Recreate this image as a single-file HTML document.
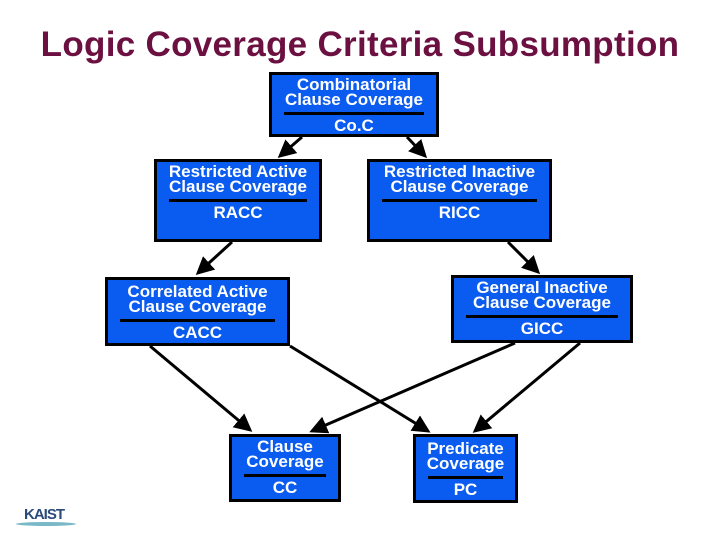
<!DOCTYPE html>
<html><head><style>
body{margin:0;width:720px;height:540px;background:#fff;position:relative;overflow:hidden;font-family:"Liberation Sans",sans-serif}
.t{position:absolute;left:0;width:720px;top:25px;text-align:center;font-size:35px;font-weight:bold;color:#6b1040;letter-spacing:0.3px}
.b{position:absolute;background:#0a5cf0;border:3px solid #000;box-sizing:border-box;color:#fff;font-weight:bold;font-size:17px;line-height:15px;text-align:center}
.b .h{padding-top:2px}
.b hr{border:0;height:3px;background:#000;margin:5px 12px 3px}
svg{position:absolute;left:0;top:0}
</style></head><body>
<div class="t">Logic Coverage Criteria Subsumption</div>
<svg width="720" height="540">
<defs><marker id="a" markerWidth="6" markerHeight="6" refX="5" refY="3" orient="auto" markerUnits="strokeWidth"><path d="M0,0L6,3L0,6z" fill="#000"/></marker></defs>
<g stroke="#000" stroke-width="3" marker-end="url(#a)">
<line x1="302" y1="137" x2="280" y2="156"/>
<line x1="407" y1="137" x2="425" y2="156"/>
<line x1="232" y1="242" x2="198" y2="273"/>
<line x1="508" y1="242" x2="538" y2="272"/>
<line x1="150" y1="346" x2="250" y2="430"/>
<line x1="290" y1="346" x2="428" y2="431"/>
<line x1="515" y1="343" x2="312" y2="431"/>
<line x1="580" y1="343" x2="475" y2="431"/>
</g></svg>
<div class="b" style="left:269px;top:72px;width:170px;height:65px"><div class="h">Combinatorial<br>Clause Coverage</div><hr>Co.C</div>
<div class="b" style="left:154px;top:159px;width:168px;height:83px"><div class="h">Restricted Active<br>Clause Coverage</div><hr>RACC</div>
<div class="b" style="left:367px;top:159px;width:185px;height:83px"><div class="h">Restricted Inactive<br>Clause Coverage</div><hr>RICC</div>
<div class="b" style="left:105px;top:277px;width:185px;height:69px"><div class="h" style="padding-top:4px">Correlated Active<br>Clause Coverage</div><hr>CACC</div>
<div class="b" style="left:451px;top:275px;width:182px;height:68px"><div class="h">General Inactive<br>Clause Coverage</div><hr>GICC</div>
<div class="b" style="left:229px;top:434px;width:112px;height:68px"><div class="h">Clause<br>Coverage</div><hr>CC</div>
<div class="b" style="left:413px;top:434px;width:105px;height:69px"><div class="h" style="padding-top:4px">Predicate<br>Coverage</div><hr>PC</div>
<div style="position:absolute;left:24px;top:506px;font:bold 15px 'Liberation Sans',sans-serif;color:#2a4a7a;letter-spacing:-1px">KAIST</div>
<div style="position:absolute;left:16px;top:522px;width:60px;height:4px;border-radius:50%;background:#7ab8c8"></div>
</body></html>
